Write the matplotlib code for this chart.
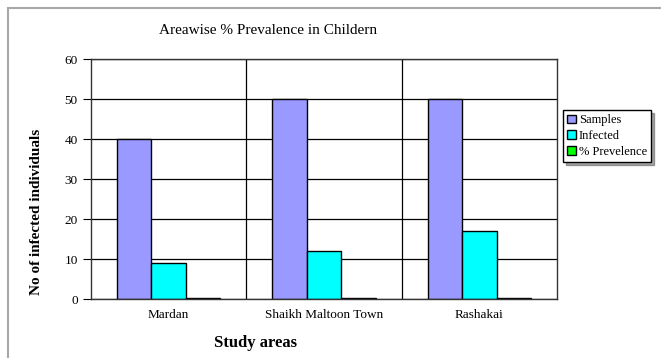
import matplotlib.pyplot as plt
import numpy as np
from matplotlib.patches import Rectangle

areas = ['Mardan', 'Shaikh Maltoon Town', 'Rashakai']
samples = [40, 50, 50]
infected = [9, 12, 17]
prevalence = [0.225, 0.24, 0.34]

plt.rcParams['font.family'] = ['Liberation Serif', 'DejaVu Serif']

fig = plt.figure(figsize=(6.61, 3.58), dpi=100)
fig.patches.append(Rectangle((8 / 661, -0.01), 1.0, 1 - 8 / 358 + 0.01, transform=fig.transFigure,
                             fill=False, edgecolor='#a8a8a8', linewidth=1.5))
ax = fig.add_axes([91 / 661, 1 - 299 / 358, (557 - 91) / 661, (299 - 59) / 358])

x = np.arange(len(areas)) + 0.5
w = 0.222
ax.bar(x - w, samples, w, color='#9999ff', edgecolor='black', linewidth=1, label='Samples')
ax.bar(x, infected, w, color='#00ffff', edgecolor='black', linewidth=1, label='Infected')
ax.bar(x + w, prevalence, w, color='#00ff00', edgecolor='black', linewidth=1, label='% Prevelence')

ax.set_xlim(0, 3)
ax.set_ylim(0, 60)
ax.set_yticks(range(0, 61, 10))
ax.set_xticks(x)
ax.set_xticklabels(areas, fontsize=9.5)
ax.set_xticks([1, 2], minor=True)
ax.tick_params(axis='x', which='both', length=0, pad=7)
ax.tick_params(axis='y', direction='out', length=6, labelsize=9.5, color='black')
ax.grid(axis='y', color='black', linewidth=0.9)
ax.grid(axis='x', which='minor', color='black', linewidth=0.9)
ax.set_axisbelow(True)
for s in ax.spines.values():
    s.set_color('#333333')
    s.set_linewidth(1)

fig.text(268 / 661, 1 - 30 / 358, 'Areawise % Prevalence in Childern', ha='center', va='center', fontsize=11)
fig.text(37 / 661, 1 - 212 / 358, 'No of infected individuals', rotation=90, ha='center', va='center',
         fontsize=11, fontweight='bold')
fig.text(256 / 661, 1 - 343 / 358, 'Study areas', ha='center', va='center', fontsize=12, fontweight='bold')

leg = fig.legend(loc='upper left', bbox_to_anchor=(563 / 661, 1 - 110 / 358), fontsize=9,
                 frameon=True, fancybox=False, shadow=True, handlelength=0.7, handleheight=0.7,
                 handletextpad=0.2, borderpad=0.35, labelspacing=0.3, borderaxespad=0)
leg.get_frame().set_edgecolor('black')
leg.get_frame().set_linewidth(1)

fig.savefig('out.png', dpi=100)
